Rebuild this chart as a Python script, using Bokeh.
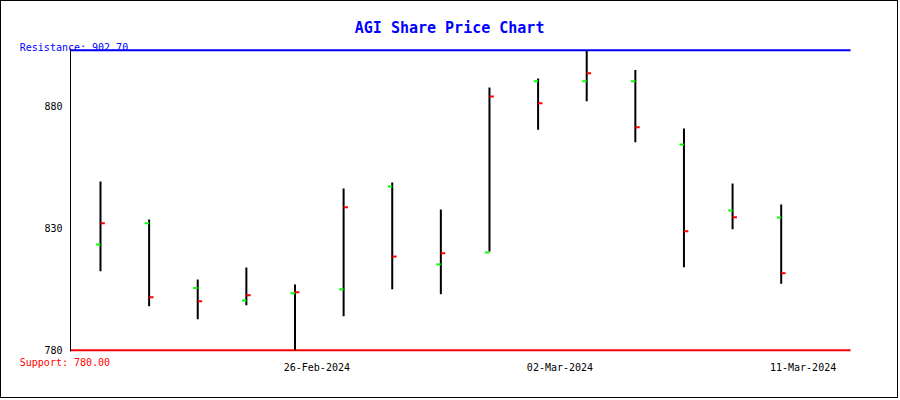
from bokeh.plotting import figure
from bokeh.models import Range1d, FixedTicker, Label, ColumnDataSource, LinearAxis
from bokeh.embed import file_html
from bokeh.resources import INLINE

# ---- data ----
dates = ["20-Feb-2024", "21-Feb-2024", "22-Feb-2024", "23-Feb-2024", "26-Feb-2024",
         "27-Feb-2024", "28-Feb-2024", "29-Feb-2024", "01-Mar-2024", "02-Mar-2024",
         "04-Mar-2024", "05-Mar-2024", "06-Mar-2024", "07-Mar-2024", "11-Mar-2024"]
opens = [823.2, 831.9, 805.4, 800.3, 803.3, 804.9, 847.0, 815.1, 820.0, 890.0,
         890.0, 890.0, 864.1, 837.1, 834.3]
highs = [849.0, 833.5, 808.9, 813.8, 806.9, 846.1, 848.6, 837.5, 887.4, 891.1,
         902.6, 894.6, 870.7, 848.2, 839.6]
lows = [812.3, 798.0, 792.7, 798.4, 780.0, 793.9, 804.9, 802.9, 820.4, 870.2,
        881.8, 865.1, 813.9, 829.5, 807.2]
closes = [831.9, 801.7, 800.0, 802.5, 803.7, 838.5, 818.3, 819.7, 883.8, 881.0,
          893.3, 871.2, 828.7, 834.4, 811.5]
shown_dates = ["26-Feb-2024", "02-Mar-2024", "11-Mar-2024"]
y_ticks = [780, 830, 880]
resistance = 902.70
support = 780.00
title = "AGI Share Price Chart"

MONO = "DejaVu Sans Mono"
n = len(dates)
idx = list(range(n))
tick_half = 0.09
# plotting-area extent (in data units) and whole-canvas extent
x_lo, x_hi = -0.617, n + 0.426
y_lo, y_hi = 779.39, 903.31
src = ColumnDataSource(dict(
    x=idx, high=highs, low=lows, open=opens, close=closes,
    ox0=[i - tick_half for i in idx], cx1=[i + tick_half for i in idx],
))

p = figure(width=898, height=398, output_backend="svg", toolbar_location=None,
           x_range=Range1d(-2.036, 16.433), y_range=Range1d(759.84, 922.62),
           x_axis_location=None, y_axis_location=None,
           min_border_left=0, min_border_right=0, min_border_top=0,
           min_border_bottom=0)
p.styles = {"border": "1px solid black"}
p.outline_line_color = None
p.background_fill_color = "white"
p.border_fill_color = "white"
p.xgrid.visible = False
p.ygrid.visible = False

# y axis (pinned to the left edge of the plotting area)
ya = LinearAxis(fixed_location=x_lo, bounds=(y_lo, y_hi), ticker=FixedTicker(ticks=y_ticks))
ya.major_tick_out = 0
ya.major_tick_in = 0
ya.minor_tick_out = 0
ya.minor_tick_in = 0
ya.axis_line_color = "black"
ya.axis_line_width = 1
ya.major_label_text_font = MONO
ya.major_label_text_font_size = "10px"
ya.major_label_text_color = "black"
ya.major_label_standoff = 8
p.add_layout(ya, "left")

# x axis (pinned to the bottom of the plotting area)
xt = [dates.index(d) + 0.45 for d in shown_dates]
xa = LinearAxis(fixed_location=y_lo, ticker=FixedTicker(ticks=xt))
xa.major_label_overrides = {t: d for t, d in zip(xt, shown_dates)}
xa.axis_line_color = None
xa.major_tick_out = 0
xa.major_tick_in = 0
xa.minor_tick_out = 0
xa.minor_tick_in = 0
xa.major_label_text_font = MONO
xa.major_label_text_font_size = "10px"
xa.major_label_text_color = "black"
xa.major_label_standoff = 10
p.add_layout(xa, "below")

# resistance / support lines
p.segment(x0=x_lo, y0=resistance, x1=x_hi, y1=resistance, line_color="#0000ff", line_width=2)
p.segment(x0=x_lo, y0=support, x1=x_hi, y1=support, line_color="#ff0000", line_width=2)

# OHLC bars
p.segment(x0="x", y0="low", x1="x", y1="high", source=src, line_color="black", line_width=2)
p.segment(x0="ox0", y0="open", x1="x", y1="open", source=src, line_color="#00ff00", line_width=2)
p.segment(x0="x", y0="close", x1="cx1", y1="close", source=src, line_color="#ff0000", line_width=2)

# texts
p.add_layout(Label(x=-1.66, y=resistance + 1.3, text=f"Resistance: {resistance:.2f}",
                   text_font=MONO, text_font_size="10px", text_color="#0000ff",
                   text_baseline="alphabetic", text_align="left"))
p.add_layout(Label(x=-1.66, y=support - 4.9, text=f"Support: {support:.2f}",
                   text_font=MONO, text_font_size="10px", text_color="#ff0000",
                   text_baseline="alphabetic", text_align="left"))
p.add_layout(Label(x=7.18, y=911.8, text=title, text_font=MONO, text_font_size="15px",
                   text_font_style="bold", text_color="#0000ff",
                   text_baseline="alphabetic", text_align="center"))

open("out.html", "w").write(file_html(p, INLINE))
